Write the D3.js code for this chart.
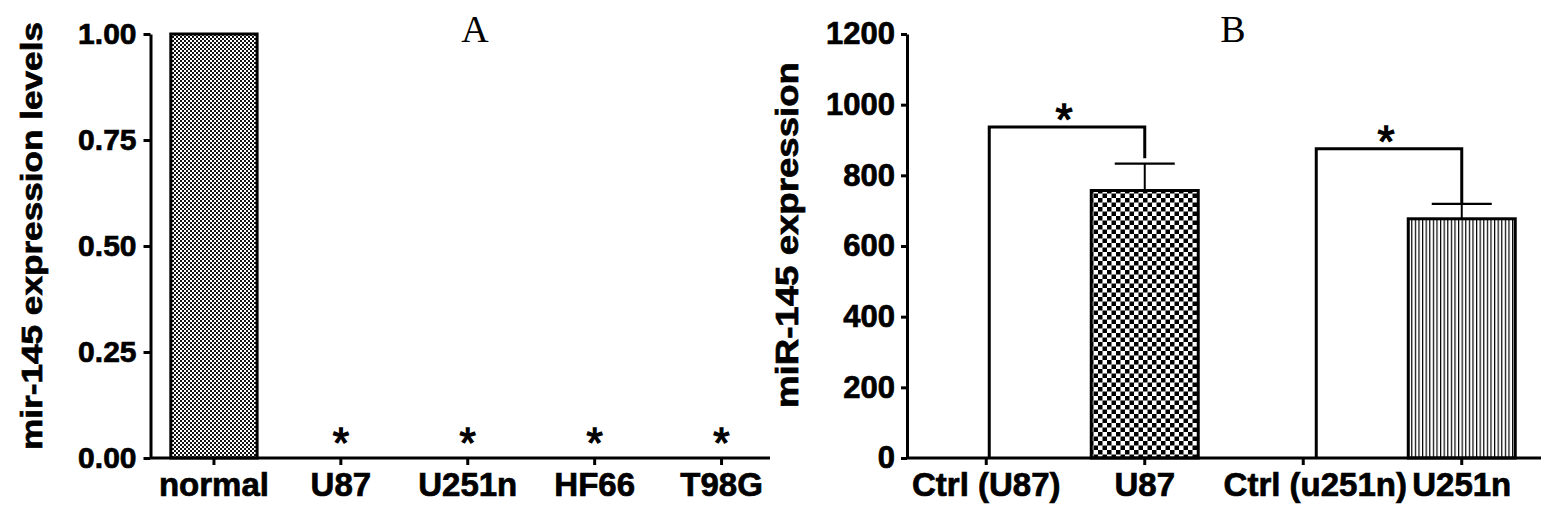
<!DOCTYPE html>
<html>
<head>
<meta charset="utf-8">
<script src="https://cdn.jsdelivr.net/npm/d3@7"></script>
<style>
  body { margin: 0; background: #fff; }
  svg { display: block; }
  text { font-family: "Liberation Sans", Arial, sans-serif; font-weight: bold; fill: #000; }
  .heavy { stroke: #000; stroke-width: 0.7px; }
  .star { stroke: #000; stroke-width: 1.3px; }
</style>
</head>
<body>
<svg id="chart" width="1559" height="519"></svg>
<script>
// ---- data ----
const catsA = ['normal', 'U87', 'U251n', 'HF66', 'T98G'];
const valsA = [1.0, 0, 0, 0, 0];
const starsA = [false, true, true, true, true];
const ticksA = [0, 0.25, 0.5, 0.75, 1.0];

const catsB = ['Ctrl (U87)', 'U87', 'Ctrl (u251n)', 'U251n'];
const valsB = [0, 757, 0, 677];
const errsB = [0, 76, 0, 42];
const ticksB = [0, 200, 400, 600, 800, 1000, 1200];
const bracketFrom = ['Ctrl (U87)', 'Ctrl (u251n)'];
const bracketTo = ['U87', 'U251n'];
const bracketLevel = [937, 875];
const bracketEnd = [848, 720];

const svg = d3.select('#chart');

// ---- patterns ----
const defs = svg.append('defs');
const fine = defs.append('pattern').attr('id', 'fineChk')
  .attr('width', 4).attr('height', 4).attr('patternUnits', 'userSpaceOnUse');
fine.append('rect').attr('width', 4).attr('height', 4).attr('fill', '#fff');
fine.append('rect').attr('width', 2).attr('height', 2).attr('fill', '#111');
fine.append('rect').attr('x', 2).attr('y', 2).attr('width', 2).attr('height', 2).attr('fill', '#111');

const coarse = defs.append('pattern').attr('id', 'coarseChk')
  .attr('width', 9).attr('height', 9).attr('patternUnits', 'userSpaceOnUse');
coarse.append('rect').attr('width', 9).attr('height', 9).attr('fill', '#fff');
coarse.append('rect').attr('width', 4.5).attr('height', 4.5).attr('fill', '#000');
coarse.append('rect').attr('x', 4.5).attr('y', 4.5).attr('width', 4.5).attr('height', 4.5).attr('fill', '#000');

const stripe = defs.append('pattern').attr('id', 'vStripe')
  .attr('width', 3.6).attr('height', 10).attr('patternUnits', 'userSpaceOnUse');
stripe.append('rect').attr('width', 3.6).attr('height', 10).attr('fill', '#fff');
stripe.append('rect').attr('width', 1.2).attr('height', 10).attr('fill', '#000');

const styleAxis = g => {
  g.selectAll('.tick line').attr('stroke', '#000').attr('stroke-width', 3);
  g.selectAll('.tick text').attr('class', 'heavy').style('font-size', '31px').style('font-weight', 'bold');
};

// ================= Panel A =================
(function(){
  const x = d3.scaleBand().domain(catsA).range([150.5, 785]).paddingInner(0.32).paddingOuter(0.16);
  const y = d3.scaleLinear().domain([0, 1]).range([458, 34]);
  const g = svg.append('g');

  g.selectAll('rect.bar')
    .data(catsA.map((c, i) => ({ c, v: valsA[i] })).filter(d => d.v > 0))
    .enter()
    .append('rect')
      .attr('class', 'bar')
      .attr('x', d => x(d.c))
      .attr('width', x.bandwidth())
      .attr('y', d => y(d.v))
      .attr('height', d => y(0) - y(d.v))
      .attr('fill', 'url(#fineChk)')
      .attr('stroke', '#000')
      .attr('stroke-width', 3);

  const yAxis = g.append('g').attr('transform', 'translate(150.5,0)')
    .call(d3.axisLeft(y).tickValues(ticksA).tickFormat(d3.format('.2f')).tickSize(7).tickPadding(7).tickSizeOuter(0));
  yAxis.select('.domain').attr('stroke', '#000').attr('stroke-width', 3);
  styleAxis(yAxis);
  yAxis.selectAll('.tick text').style('font-size', '30px');

  const xAxis = g.append('g').attr('transform', 'translate(0,458)')
    .call(d3.axisBottom(x).tickSize(7).tickPadding(8));
  xAxis.select('.domain').remove();
  styleAxis(xAxis);
  xAxis.selectAll('.tick text').style('font-size', '33px');
  g.append('line').attr('x1', 150.5).attr('x2', 770).attr('y1', 458).attr('y2', 458)
    .attr('stroke', '#000').attr('stroke-width', 3);

  g.selectAll('text.star')
    .data(catsA.filter((c, i) => starsA[i]))
    .enter()
    .append('text')
      .attr('class', 'star')
      .attr('x', d => x(d) + x.bandwidth() / 2)
      .attr('y', y(0) - 1)
      .attr('text-anchor', 'middle')
      .style('font-size', '42px')
      .style('font-weight', 'normal')
      .text('*');

  g.append('text')
    .attr('class', 'heavy')
    .attr('transform', 'translate(42,236) rotate(-90)')
    .attr('text-anchor', 'middle')
    .attr('textLength', 428)
    .attr('lengthAdjust', 'spacingAndGlyphs')
    .style('font-size', '30px')
    .text('mir-145 expression levels');

  g.append('text')
    .attr('x', 475).attr('y', 42)
    .attr('text-anchor', 'middle')
    .style('font-family', '"Liberation Serif", "Times New Roman", serif')
    .style('font-weight', 'normal')
    .style('font-size', '38px')
    .text('A');
})();

// ================= Panel B =================
(function(){
  const x = d3.scaleBand().domain(catsB).range([907, 1541]).paddingInner(0.325).paddingOuter(0.1625);
  const y = d3.scaleLinear().domain([0, 1200]).range([458, 34]);
  const g = svg.append('g');
  const fills = { 'U87': 'url(#coarseChk)', 'U251n': 'url(#vStripe)' };
  const cx = c => x(c) + x.bandwidth() / 2;

  const data = catsB.map((c, i) => ({ c, v: valsB[i], e: errsB[i] }));

  // error bars
  g.selectAll('line.err')
    .data(data.filter(d => d.e > 0))
    .enter()
    .append('line')
      .attr('x1', d => cx(d.c)).attr('x2', d => cx(d.c))
      .attr('y1', d => y(d.v)).attr('y2', d => y(d.v + d.e))
      .attr('stroke', '#000').attr('stroke-width', 2);
  g.selectAll('line.cap')
    .data(data.filter(d => d.e > 0))
    .enter()
    .append('line')
      .attr('x1', d => cx(d.c) - 30).attr('x2', d => cx(d.c) + 30)
      .attr('y1', d => y(d.v + d.e)).attr('y2', d => y(d.v + d.e))
      .attr('stroke', '#000').attr('stroke-width', 2.2);

  g.selectAll('rect.bar')
    .data(data.filter(d => d.v > 0))
    .enter()
    .append('rect')
      .attr('x', d => x(d.c))
      .attr('width', x.bandwidth())
      .attr('y', d => y(d.v))
      .attr('height', d => y(0) - y(d.v))
      .attr('fill', d => fills[d.c])
      .attr('stroke', '#000')
      .attr('stroke-width', 3);

  const yAxis = g.append('g').attr('transform', 'translate(907,0)')
    .call(d3.axisLeft(y).tickValues(ticksB).tickFormat(d3.format('d')).tickSize(6).tickPadding(6).tickSizeOuter(0));
  yAxis.select('.domain').attr('stroke', '#000').attr('stroke-width', 3);
  styleAxis(yAxis);
  yAxis.selectAll('.tick text').style('font-size', '31px');

  const xAxis = g.append('g').attr('transform', 'translate(0,458)')
    .call(d3.axisBottom(x).tickSize(7).tickPadding(8));
  xAxis.select('.domain').remove();
  styleAxis(xAxis);
  xAxis.selectAll('.tick text').style('font-size', '33px');
  // the second control label runs up against its neighbour in the original
  xAxis.selectAll('.tick text').filter(d => d === 'Ctrl (u251n)').attr('dx', 12);
  g.append('line').attr('x1', 907).attr('x2', 1541).attr('y1', 458).attr('y2', 458)
    .attr('stroke', '#000').attr('stroke-width', 3);

  // significance brackets
  const legShift = [3, 13];
  bracketFrom.forEach((from, i) => {
    const xl = cx(from) + legShift[i];
    const xr = cx(bracketTo[i]);
    const yl = y(bracketLevel[i]);
    g.append('path')
      .attr('d', `M${xl},${y(0)}V${yl}H${xr}V${y(bracketEnd[i])}`)
      .attr('fill', 'none').attr('stroke', '#000').attr('stroke-width', 3);
    g.append('text')
      .attr('class', 'star')
      .attr('x', (xl + xr) / 2 - 3)
      .attr('y', yl + 8)
      .attr('text-anchor', 'middle')
      .style('font-size', '44px')
      .style('font-weight', 'normal')
      .text('*');
  });

  g.append('text')
    .attr('class', 'heavy')
    .attr('transform', 'translate(798,235) rotate(-90)')
    .attr('text-anchor', 'middle')
    .attr('textLength', 346)
    .attr('lengthAdjust', 'spacingAndGlyphs')
    .style('font-size', '31px')
    .text('miR-145 expression');

  g.append('text')
    .attr('x', 1233).attr('y', 42)
    .attr('text-anchor', 'middle')
    .style('font-family', '"Liberation Serif", "Times New Roman", serif')
    .style('font-weight', 'normal')
    .style('font-size', '38px')
    .text('B');
})();
</script>
</body>
</html>
